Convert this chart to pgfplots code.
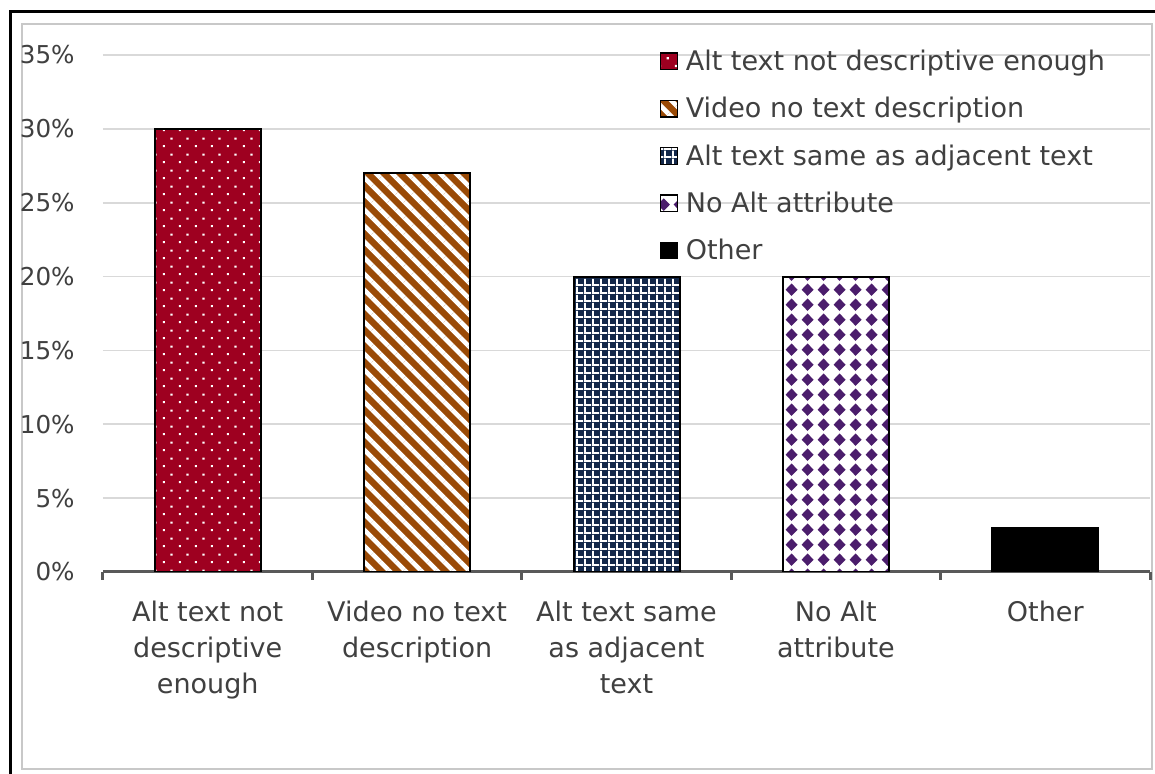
\documentclass[border=0pt]{standalone}
\usepackage{fontspec}
\setmainfont{DejaVu Sans}
\usepackage{pgfplots}
\pgfplotsset{compat=1.18}
\usetikzlibrary{patterns,patterns.meta}

\definecolor{txt}{HTML}{404040}
\definecolor{cRed}{HTML}{9E0020}
\definecolor{cBrown}{HTML}{9A4A06}
\definecolor{cNavy}{HTML}{13284A}
\definecolor{cPurple}{HTML}{4B1D6C}
\definecolor{gridc}{HTML}{D9D9D9}
\definecolor{axc}{HTML}{595959}
\definecolor{framec}{HTML}{C8C8C8}

\tikzdeclarepattern{
  name=sdots,
  type=uncolored,
  bottom left={(0pt,0pt)},
  top right={(8pt,8pt)},
  tile size={(8pt,8pt)},
  code={
    \fill (1.5pt,1.5pt) rectangle (2.6pt,2.6pt);
    \fill (5.5pt,5.5pt) rectangle (6.6pt,6.6pt);
  }
}
\tikzdeclarepattern{
  name=mygrid,
  type=uncolored,
  bottom left={(0pt,0pt)},
  top right={(4pt,4pt)},
  tile size={(4pt,4pt)},
  code={
    \fill (0pt,0pt) rectangle (4pt,1pt);
    \fill (0pt,0pt) rectangle (1pt,4pt);
  }
}
\tikzdeclarepattern{
  name=diam,
  type=uncolored,
  bottom left={(0pt,0pt)},
  top right={(8pt,7.4pt)},
  tile size={(8pt,7.4pt)},
  code={
    \fill (4pt,0.55pt) -- (7.15pt,3.7pt) -- (4pt,6.85pt) -- (0.85pt,3.7pt) -- cycle;
  }
}

\begin{document}
\begin{tikzpicture}
\useasboundingbox (0,0) rectangle (577.5pt,387pt);
\fill[white] (0,0) rectangle (577.5pt,387pt);
\draw[framec, line width=1pt] (11pt,2.5pt) rectangle (576pt,375pt);
\draw[black, line width=1.5pt] (5pt,0pt) -- (5pt,381pt) -- (578pt,381pt);
\begin{axis}[
  at={(51.5pt,101pt)}, anchor=south west,
  scale only axis, width=523.5pt, height=258.5pt,
  xmin=-0.5, xmax=4.5, ymin=0, ymax=35,
  axis x line*=bottom, axis y line*=left,
  y axis line style={draw=none},
  x axis line style={axc, line width=1.5pt},
  xtick={0,1,2,3,4},
  xticklabels={{Alt text not\\descriptive\\enough},{Video no text\\description},{Alt text same\\as adjacent\\text},{No Alt\\attribute},{Other}},
  minor xtick={-0.5,0.5,1.5,2.5,3.5,4.5},
  major tick length=0pt, minor tick length=4pt,
  xtick align=outside,
  major x tick style={draw=none},
  minor x tick style={axc, line width=1.5pt},
  ytick={0,5,...,35},
  ytick style={draw=none},
  ymajorgrids, grid style={gridc, line width=0.8pt},
  /pgf/number format/assume math mode=true,
  yticklabel={\pgfmathprintnumber{\tick}\%},
  yticklabel style={font=\fontsize{12.3}{14}\selectfont, text=txt, anchor=east, inner sep=0pt, xshift=-14pt},
  xticklabel style={font=\fontsize{13.5}{18}\selectfont, text=txt, align=center, anchor=north, inner sep=0pt, yshift=-14.5pt},
  legend style={at={(0.532,1.0083)}, anchor=north west, draw=none, fill=none, inner sep=0pt, outer sep=0pt,
    font=\fontsize{13.5}{16}\selectfont, text=txt, row sep=10.65pt,
    nodes={inner sep=0pt, text height=10pt, text depth=3pt},
    /tikz/every odd column/.append style={column sep=4pt}},
  legend cell align=left,
  legend image code/.code={\draw[line width=0.6pt] (0pt,-3pt) rectangle (8.3pt,5.3pt);},
]
\addplot[ybar, bar width=53pt, bar shift=0pt, draw=black, line width=1pt, fill=cRed, postaction={pattern=sdots, pattern color=white}] coordinates {(0,30)};
\addlegendentry{Alt text not descriptive enough}
\addplot[ybar, bar width=53pt, bar shift=0pt, draw=black, line width=1pt, fill=cBrown, postaction={pattern={Lines[angle=-45,distance=5.66pt,line width=2.3pt]}, pattern color=white}] coordinates {(1,27)};
\addlegendentry{Video no text description}
\addplot[ybar, bar width=53pt, bar shift=0pt, draw=black, line width=1pt, fill=cNavy, postaction={pattern=mygrid, pattern color=white}] coordinates {(2,20)};
\addlegendentry{Alt text same as adjacent text}
\addplot[ybar, bar width=53pt, bar shift=0pt, draw=black, line width=1pt, fill=white, postaction={pattern=diam, pattern color=cPurple}] coordinates {(3,20)};
\addlegendentry{No Alt attribute}
\addplot[ybar, bar width=53pt, bar shift=0pt, draw=black, line width=1pt, fill=black] coordinates {(4,3)};
\addlegendentry{Other}
\end{axis}
\end{tikzpicture}
\end{document}
